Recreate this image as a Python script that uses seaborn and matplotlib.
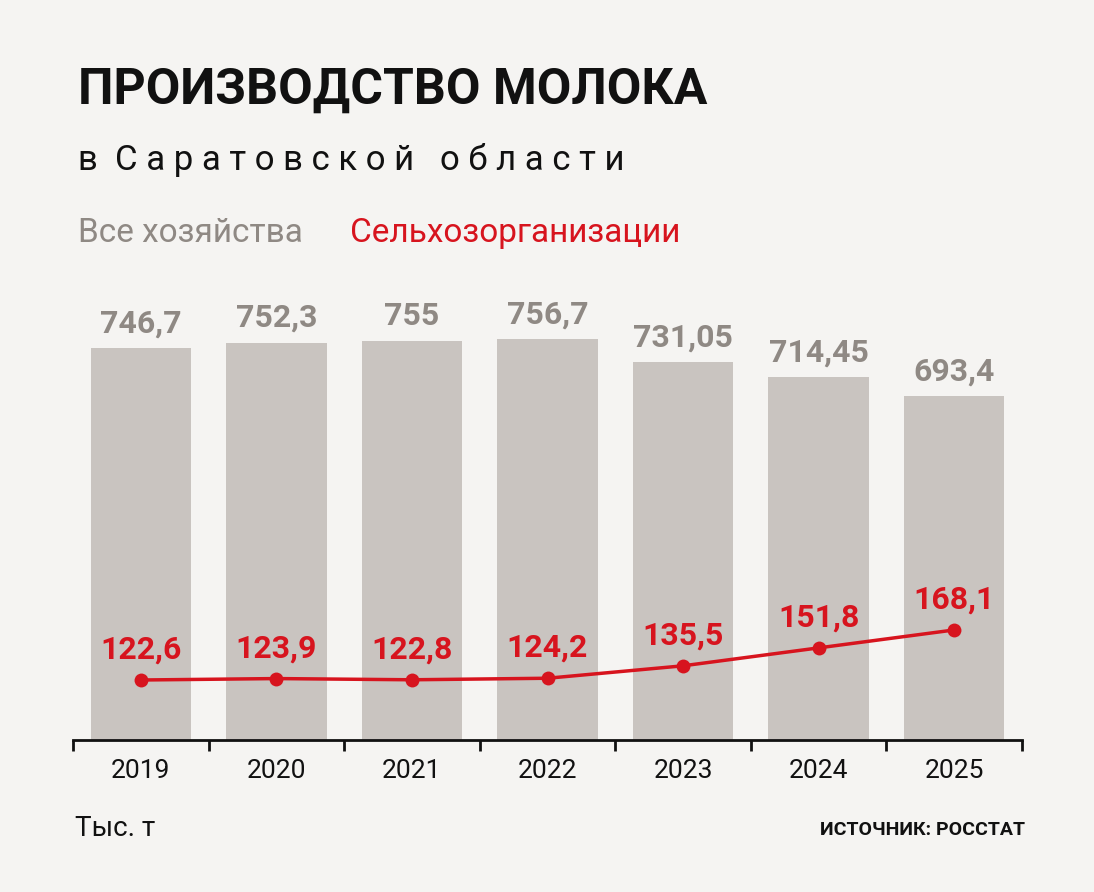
import matplotlib.pyplot as plt
import seaborn as sns
import pandas as pd

years = ["2019", "2020", "2021", "2022", "2023", "2024", "2025"]
all_farms = [746.7, 752.3, 755, 756.7, 731.05, 714.45, 693.4]
agri_orgs = [122.6, 123.9, 122.8, 124.2, 135.5, 151.8, 168.1]

all_labels = ["746,7", "752,3", "755", "756,7", "731,05", "714,45", "693,4"]
agri_labels = ["122,6", "123,9", "122,8", "124,2", "135,5", "151,8", "168,1"]

bg = "#f5f4f2"
bar_c = "#c9c4c0"
gray_t = "#8f8984"
red = "#d7141e"

sns.set_theme(style="white")
plt.rcParams["font.family"] = ["Roboto", "DejaVu Sans"]

df = pd.DataFrame({"year": years, "all": all_farms, "agri": agri_orgs})

W, H = 1094, 892
fig = plt.figure(figsize=(W / 100, H / 100), dpi=100, facecolor=bg)
ax = fig.add_axes([73 / W, (H - 740) / H, (1022 - 73) / W, 480 / H])
ax.set_facecolor("none")

sns.barplot(data=df, x="year", y="all", color=bar_c, width=100 / 135,
            saturation=1, linewidth=0, ax=ax)
ax.set_xlim(-0.5, 6.5)
b0 = 746.7 - 392 / 0.9
ax.set_ylim(b0, b0 + 480 / 0.9)
for i, (v, t) in enumerate(zip(all_farms, all_labels)):
    ax.text(i, v + 11, t, ha="center", va="bottom", fontsize=23,
            fontweight="bold", color=gray_t)

ax2 = ax.twinx()
v0 = 122.6 - 60 / 1.1
ax2.set_ylim(v0, v0 + 480 / 1.1)
sns.lineplot(x=range(len(years)), y=agri_orgs, color=red, linewidth=2.5,
             marker="o", markersize=10, markeredgewidth=0, ax=ax2)
for i, (v, t) in enumerate(zip(agri_orgs, agri_labels)):
    ax2.text(i, v + 14, t, ha="center", va="bottom", fontsize=23,
             fontweight="bold", color=red)
ax2.set_yticks([])
ax2.set_ylabel("")

for a in (ax, ax2):
    for s in ["top", "right", "left"]:
        a.spines[s].set_visible(False)
ax2.spines["bottom"].set_visible(False)
ax.spines["bottom"].set_color("#111111")
ax.spines["bottom"].set_linewidth(2)
ax.set_yticks([])
ax.set_xlabel("")
ax.set_ylabel("")
ax.set_xticks([x + 0.5 for x in range(-1, 7)], minor=True)
ax.tick_params(axis="x", which="minor", length=8, width=2, color="#111111",
               bottom=True)
ax.tick_params(axis="x", which="major", length=0, labelsize=19, pad=14,
               labelcolor="#111111")

fig.text(78 / W, 1 - 90 / H, "ПРОИЗВОДСТВО МОЛОКА", fontsize=36,
         fontweight="bold", color="#111111", va="center", ha="left")
fig.text(78 / W, 1 - 160 / H, "в  С а р а т о в с к о й   о б л а с т и",
         fontsize=25, color="#111111", va="center", ha="left")
fig.text(78 / W, 1 - 233 / H, "Все хозяйства", fontsize=24, color=gray_t,
         va="center", ha="left")
fig.text(350 / W, 1 - 233 / H, "Сельхозорганизации", fontsize=24, color=red,
         va="center", ha="left")
fig.text(75 / W, 1 - 828 / H, "Тыс. т", fontsize=20, color="#111111",
         va="center", ha="left")
fig.text(1025 / W, 1 - 830 / H, "ИСТОЧНИК: РОССТАТ", fontsize=14,
         fontweight="bold", color="#111111", va="center", ha="right")

fig.savefig("out.png", dpi=100, facecolor=bg)
